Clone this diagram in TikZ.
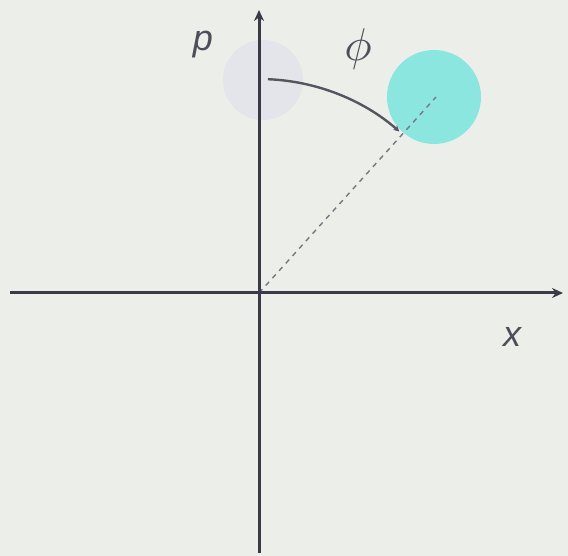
\documentclass[tikz,border=0pt]{standalone}
\usepackage{fontspec}
\setmainfont{Liberation Sans}
\usetikzlibrary{arrows.meta,calc}
\definecolor{bgc}{RGB}{236,238,233}
\definecolor{greyc}{RGB}{228,229,234}
\definecolor{cyanc}{RGB}{140,230,224}
\definecolor{axc}{RGB}{58,58,72}
\definecolor{arcc}{RGB}{85,85,95}
\tikzset{
  axis/.style={draw=axc,line width=3pt,-{Stealth[length=11pt,width=10pt]}},
  arcline/.style={draw=arcc,line width=2.4pt,-{Stealth[length=6pt,width=6pt]}},
  dashline/.style={draw=arcc!80,line width=1.4pt,dash pattern=on 5pt off 5pt},
  lbl/.style={font=\fontsize{36}{40}\selectfont\itshape,text=axc!90}
}
\begin{document}
\begin{tikzpicture}[x=1pt,y=-1pt]
\fill[bgc] (0,0) rectangle (568,556);
\useasboundingbox (0,0) rectangle (568,556);
\coordinate (O) at (259,293);
\coordinate (xl) at (10,293);
\coordinate (xr) at (563,293);
\coordinate (yb) at (259,553);
\coordinate (yt) at (259,10);
\coordinate (cc) at (436,97);
\fill[greyc] (263,80) circle (40);
\fill[cyanc] (434,97) circle (47);
\draw[dashline] (O) -- (cc);
\draw[axis] (xl) -- (xr);
\draw[axis] (yb) -- (yt);
\draw[arcline] ($(O)+(-87.6:214)$) arc[start angle=-87.6,end angle=-49,radius=214];
\node[lbl] (p) at (203,45) {p};
\node[text=axc!90,scale=4.6] (phi) at (358,49) {$\phi$};
\node[lbl] (xlab) at (512,337) {x};
\end{tikzpicture}
\end{document}
